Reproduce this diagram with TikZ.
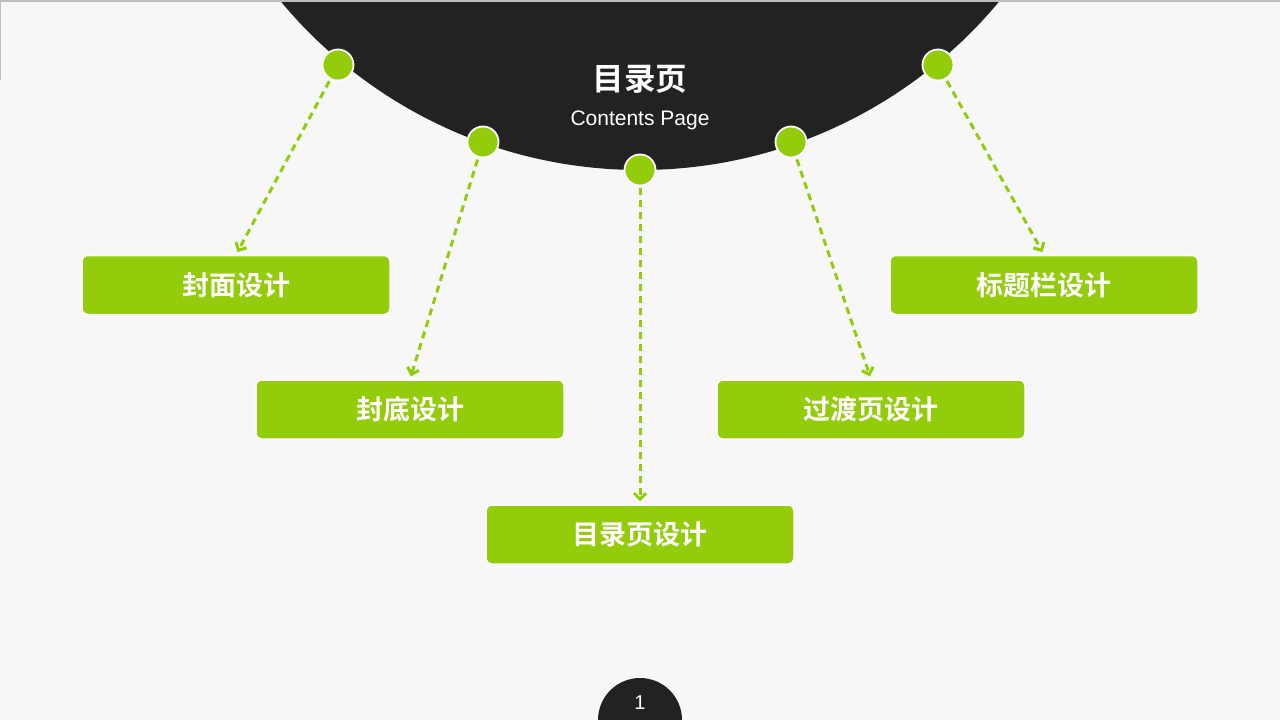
\documentclass[tikz,border=0pt]{standalone}
\usepackage{fontspec}
\setmainfont{Liberation Sans}
\newfontfamily\cjkb{Noto Sans CJK SC Bold}
\usetikzlibrary{arrows.meta}
\definecolor{bg}{HTML}{F7F7F7}
\definecolor{dark}{HTML}{222222}
\definecolor{lime}{RGB}{146,204,10}
\definecolor{edge}{HTML}{BDBDBD}
\tikzset{
  dot/.style={circle, fill=lime, draw=white, line width=1.8pt, minimum size=31pt, inner sep=0pt},
  topic/.style={rectangle, rounded corners=6pt, fill=lime, draw=white, line width=1.5pt,
    minimum width=308pt, minimum height=59pt, inner sep=0pt, text=white,
    font=\cjkb\fontsize{27}{32}\selectfont},
  link/.style={draw=lime, line width=3pt, dash pattern=on 7pt off 5pt,
    -{Straight Barb[length=6pt,width=12pt,line width=3pt]}, shorten >=3pt, shorten <=2pt}
}
\begin{document}
\begin{tikzpicture}[x=1pt,y=-1pt]
\useasboundingbox (0,0) rectangle (1280,720);
\fill[bg] (0,0) rectangle (1280,720);
\begin{scope}
\clip (0,0) rectangle (1280,720);
\fill[dark] (640,-297) circle (467);
\fill[dark] (640,720) circle (42);
\end{scope}
\draw[edge, line width=1.5pt] (0,80) -- (0,0.75) -- (1280,0.75);
\node[text=white, font=\cjkb\fontsize{31.5}{36}\selectfont] (title) at (640,79) {目录页};
\node[text=white, font=\fontsize{21}{25}\selectfont] (sub) at (640,120) {Contents Page};
\node[text=white, font=\fontsize{20}{24}\selectfont] (pg) at (640,703) {1};
\node[dot] (d1) at (338,65) {};
\node[dot] (d2) at (483,142) {};
\node[dot] (d3) at (640,170) {};
\node[dot] (d4) at (791,142) {};
\node[dot] (d5) at (938,65) {};
\node[topic] (b1) at (236,285) {封面设计};
\node[topic] (b2) at (410,409.5) {封底设计};
\node[topic] (b3) at (640,534.5) {目录页设计};
\node[topic] (b4) at (871,409.5) {过渡页设计};
\node[topic] (b5) at (1044,285) {标题栏设计};
\draw[link] (d1) -- (b1.north);
\draw[link] (d2) -- (b2.north);
\draw[link] (d3) -- (b3.north);
\draw[link] (d4) -- (b4.north);
\draw[link] (d5) -- (b5.north);
\end{tikzpicture}
\end{document}
